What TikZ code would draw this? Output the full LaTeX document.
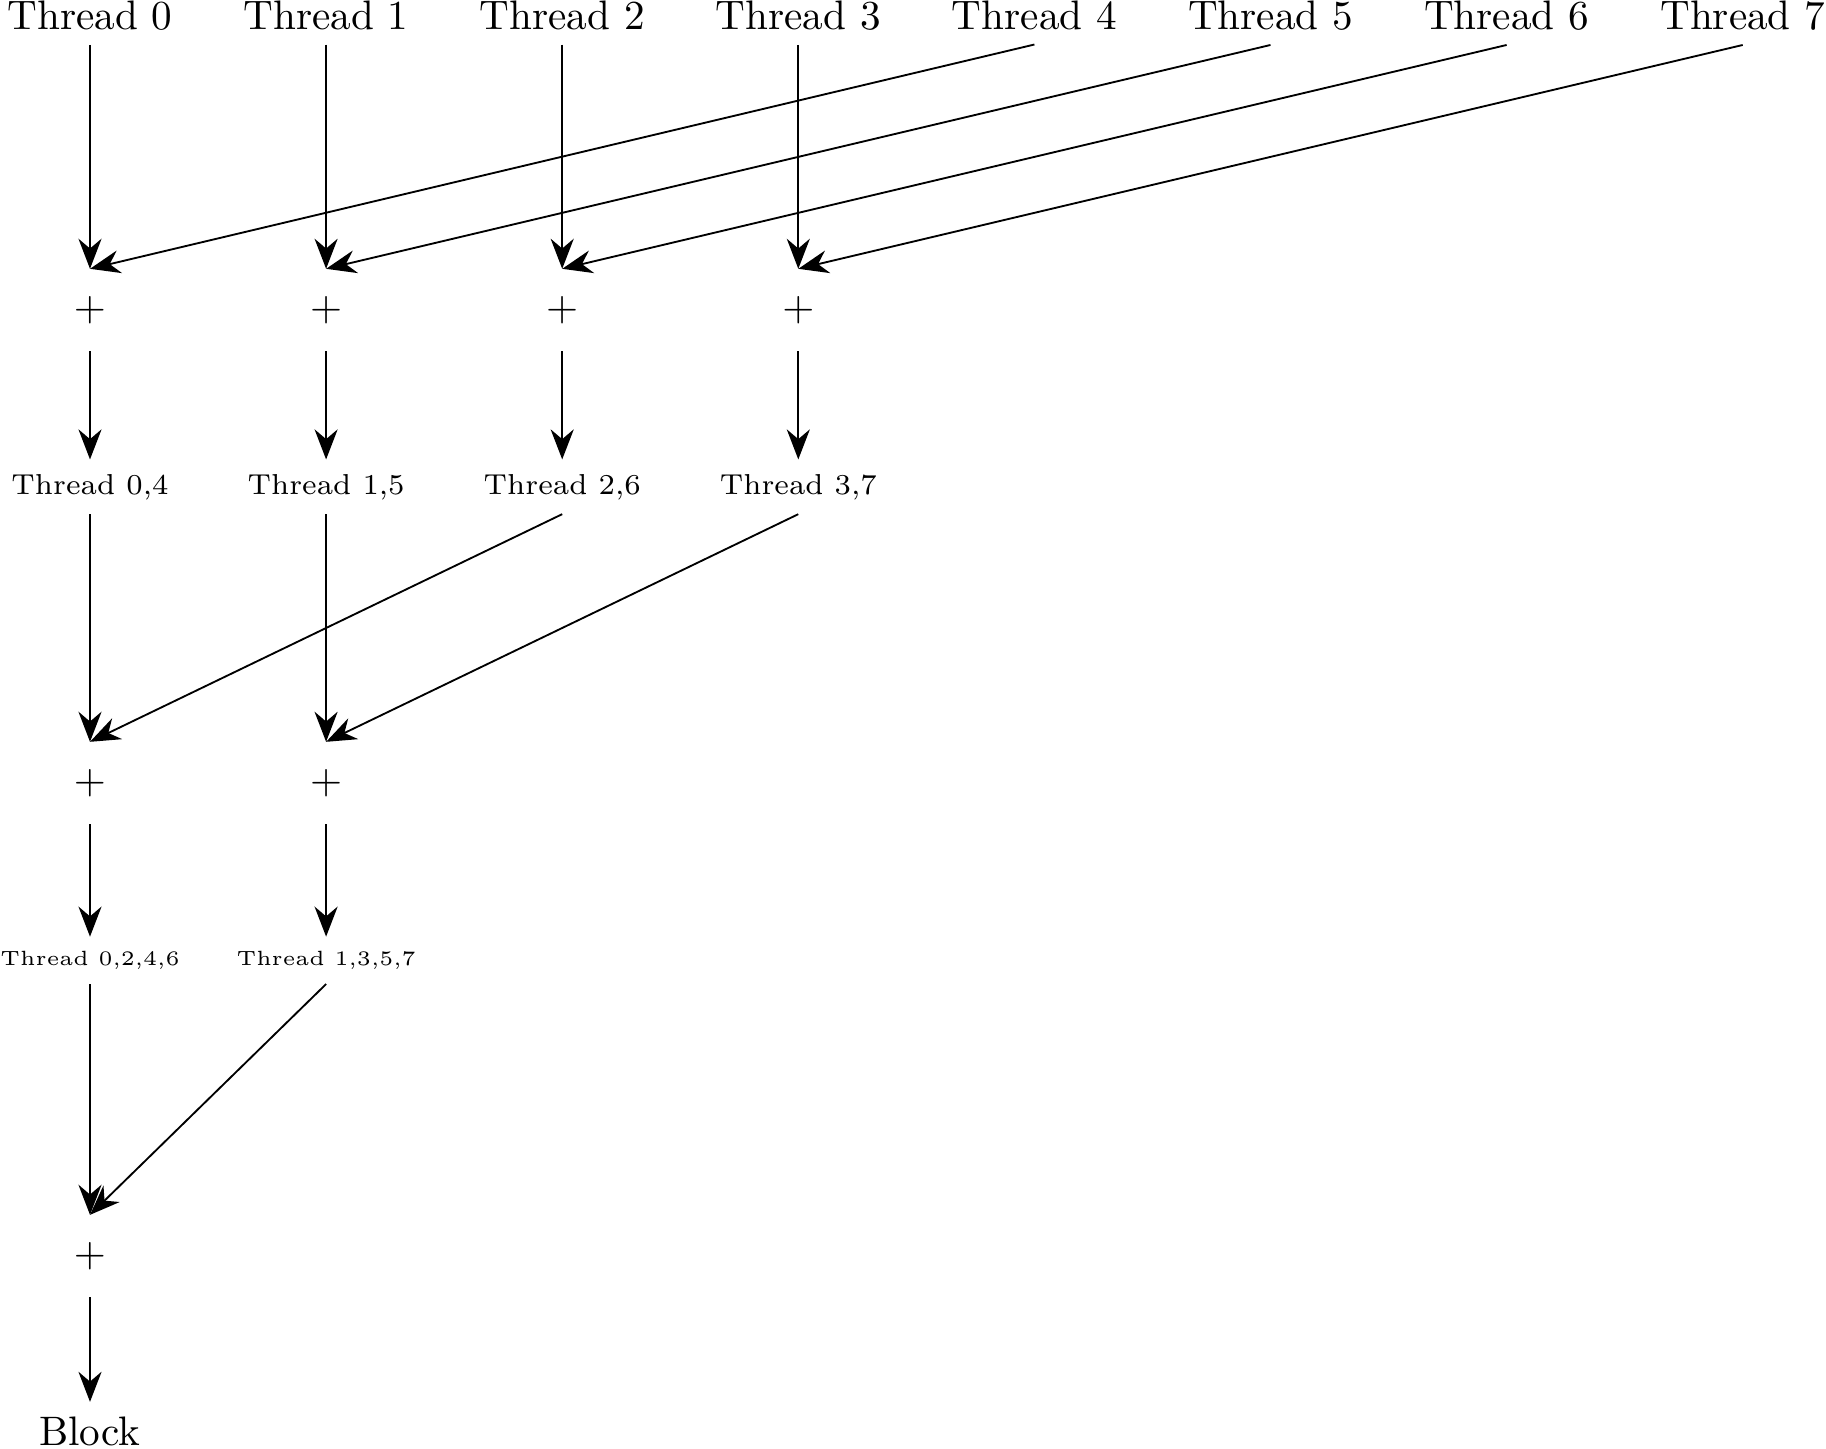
\documentclass[tikz,border=0pt]{standalone}
\usetikzlibrary{arrows.meta}
\begin{document}
\begin{tikzpicture}[x=0.242718pt, y=-0.242718pt,
  lbl/.style={anchor=base},
  plusnode/.style={minimum height=19.6pt},
  conn/.style={-{Stealth[length=7.3pt,width=5.6pt]}, line width=0.45pt}]
\useasboundingbox (0,0) rectangle (1826,1448);
% level 0
\foreach \i in {0,...,7}
  \node[lbl] (t\i) at ({90+236.1*\i},29.5) {Thread \i};
% first sums
\foreach \i in {0,...,3}
  \node[plusnode] (a\i) at ({90+236.1*\i},310) {$+$};
\foreach \i/\j in {0/4,1/5,2/6,3/7}
  \node[lbl] (m\i) at ({90+236.1*\i},494) {\scriptsize Thread \i,\j};
% second sums
\foreach \i in {0,1}
  \node[plusnode] (b\i) at ({90+236.1*\i},783) {$+$};
\node[lbl] (q0) at (90,965.5) {\tiny Thread 0,2,4,6};
\node[lbl] (q1) at (326.1,965.5) {\tiny Thread 1,3,5,7};
% final sum
\node[plusnode] (c0) at (90,1256) {$+$};
\node[lbl] (blk) at (90,1445) {Block};
% connectors level 0 -> first sums
\foreach \i in {0,...,3}
  \draw[conn] (t\i.south) -- (a\i.north);
\foreach \i/\j in {4/0,5/1,6/2,7/3}
  \draw[conn] (t\i.south) -- (a\j.north);
\foreach \i in {0,...,3}
  \draw[conn] (a\i.south) -- (m\i.north);
% first results -> second sums
\draw[conn] (m0.south) -- (b0.north);
\draw[conn] (m2.south) -- (b0.north);
\draw[conn] (m1.south) -- (b1.north);
\draw[conn] (m3.south) -- (b1.north);
\draw[conn] (b0.south) -- (q0.north);
\draw[conn] (b1.south) -- (q1.north);
% final
\draw[conn] (q0.south) -- (c0.north);
\draw[conn] (q1.south) -- (c0.north);
\draw[conn] (c0.south) -- (blk.north);
\end{tikzpicture}
\end{document}
